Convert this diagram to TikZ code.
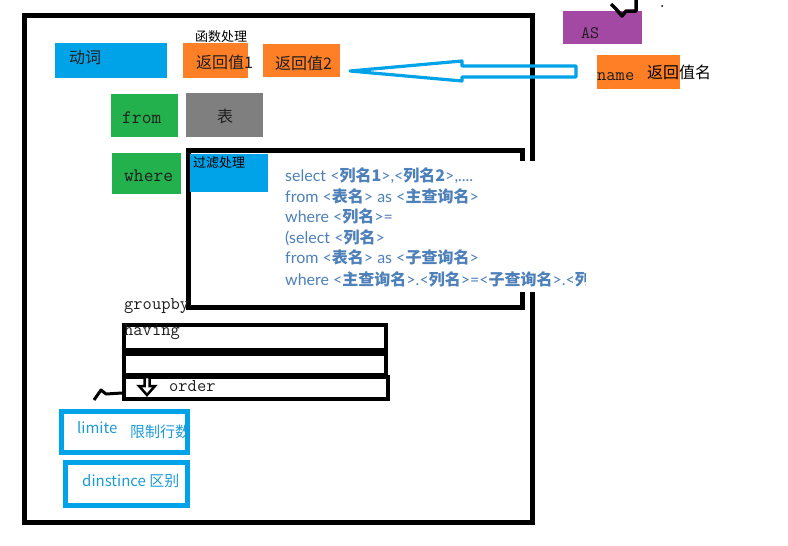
\documentclass[tikz,border=0pt]{standalone}
\usepackage{fontspec}
\setmainfont{Noto Sans CJK SC}
\newfontfamily\zhfont{Noto Sans CJK SC}
\newfontfamily\latofont{Lato}
\definecolor{pblue}{HTML}{00A2E8}
\definecolor{porange}{HTML}{FF7F27}
\definecolor{pgreen}{HTML}{22B14C}
\definecolor{pgray}{HTML}{7F7F7F}
\definecolor{ppurple}{HTML}{A349A4}
\definecolor{sqlblue}{HTML}{4E80BA}
\definecolor{tblue}{HTML}{1C9AD6}
\definecolor{ink}{HTML}{1E1E1E}
\newcommand{\zhb}[1]{{\zhfont\bfseries #1}}
\tikzset{
  fbox/.style={draw=none, inner sep=0pt, anchor=north west, fill=#1},
  zh/.style={inner sep=0pt, anchor=west, text=ink, font=\zhfont\fontsize{16}{18}\selectfont},
  zhs/.style={inner sep=0pt, anchor=west, text=black, font=\zhfont\fontsize{13}{15}\selectfont},
  mono/.style={inner sep=0pt, anchor=west, text=ink, font=\ttfamily\fontsize{18}{20}\selectfont},
  sql/.style={inner sep=0pt, anchor=base west, text=sqlblue, font=\latofont\fontsize{16}{18}\selectfont},
  bl/.style={inner sep=0pt, anchor=west, text=tblue, font=\zhfont\fontsize{15}{17}\selectfont},
}
\begin{document}
\begin{tikzpicture}[x=1pt,y=-1pt]
\useasboundingbox (0,0) rectangle (788,546);
% outer frame
\node[draw, line width=5pt, inner sep=0pt, anchor=north west, minimum width=508pt, minimum height=507pt] (frame) at (22,13) {};
% inner filter box
\node[draw, line width=5pt, inner sep=0pt, anchor=north west, minimum width=334pt, minimum height=157pt] (inner) at (186,148) {};
% white screenshot area
\fill[white] (276,161) rectangle (586,292);
% SQL text
\begin{scope}
\clip (276,150) rectangle (585,300);
\node[sql] (s1) at (285,181) {select <\zhb{列名1}>,<\zhb{列名2}>,....};
\node[sql] (s2) at (285,202) {from <\zhb{表名}> as <\zhb{主查询名}>};
\node[sql] (s3) at (285,222) {where <\zhb{列名}>=};
\node[sql] (s4) at (285,243) {(select <\zhb{列名}>};
\node[sql] (s5) at (285,263) {from <\zhb{表名}> as <\zhb{子查询名}>};
\node[sql] (s6) at (285,285) {where <\zhb{主查询名}>.<\zhb{列名}>=<\zhb{子查询名}>.<\zhb{列名}>};
\end{scope}
% filter label
\node[fbox=pblue, minimum width=78pt, minimum height=38pt] (guolv) at (190,154) {};
\node[zhs] (guolvt) at (193,163) {过滤处理};
% top row
\node[fbox=pblue, minimum width=112pt, minimum height=35pt] (dongci) at (55,43) {};
\node[zh] (dongcit) at (69,58) {动词};
\node[zhs] (hanshu) at (195,37) {函数处理};
\node[fbox=porange, minimum width=65pt, minimum height=35pt] (fan1) at (183,43) {};
\node[zh] (fan1t) at (196,62) {返回值1};
\node[fbox=porange, minimum width=77pt, minimum height=33pt] (fan2) at (263,44) {};
\node[zh] (fan2t) at (275,63) {返回值2};
% from / table
\node[fbox=pgreen, minimum width=67pt, minimum height=43pt] (from) at (111,94) {};
\node[mono, font=\ttfamily\fontsize{19}{21}\selectfont] (fromt) at (122,118) {from};
\node[fbox=pgray, minimum width=77pt, minimum height=44pt] (biao) at (186,93) {};
\node[zh, anchor=center] (biaot) at (225,116) {表};
% where
\node[fbox=pgreen, minimum width=69pt, minimum height=41pt] (where) at (112,153) {};
\node[mono, font=\ttfamily\fontsize{19}{21}\selectfont] (wheret) at (124,176) {where};
% AS / name
\node[fbox=ppurple, minimum width=79pt, minimum height=33pt] (as) at (563,11) {};
\node[mono, font=\ttfamily\fontsize{17.5}{19}\selectfont] (ast) at (581,33) {AS};
\node[fbox=porange, minimum width=83pt, minimum height=34pt] (name) at (597,55) {};
\node[mono] (namet) at (597,77) {name};
\node[zh, text=black] (namezh) at (647,72) {返回值名};
% hollow blue arrow
\draw[pblue, line width=3.2pt, line join=round] (350,71) -- (462,61) -- (462,66) -- (576,66) -- (576,77) -- (462,77) -- (462,81) -- cycle;
% black marks near AS
\draw[line width=3.5pt, line join=round] (611,4) -- (616,9) -- (622,16) -- (626,11) -- (636,11) -- (636,0);
\fill (662,6) circle (1pt);
% groupby / having / order
\node[mono] (groupby) at (124,306) {groupby};
\node[draw, line width=4pt, inner sep=0pt, anchor=north west, minimum width=262pt, minimum height=25pt] (having) at (122,323) {};
\node[mono] (havingt) at (124,332) {having};
\node[draw, line width=4pt, inner sep=0pt, anchor=north west, minimum width=262pt, minimum height=21pt] (mid) at (122,352) {};
\node[draw, line width=4pt, inner sep=0pt, anchor=north west, minimum width=264pt, minimum height=22pt] (order) at (122,375) {};
\node[mono] (ordert) at (169,386) {order};
\draw[line width=2.5pt, fill=white, line join=miter] (144.5,377) -- (149.5,377) -- (149.5,386) -- (155,386) -- (147,395) -- (139,386) -- (144.5,386) -- cycle;
\draw[line width=3pt, line join=round] (94,400) -- (101,390) -- (106,394) -- (122,393);
% limite / dinstince
\node[draw=pblue, line width=5pt, inner sep=0pt, anchor=north west, minimum width=126pt, minimum height=41pt] (limite) at (59,409) {};
\node[bl] (limitet) at (77,428) {limite};
\node[bl] (limitezh) at (130,432) {限制行数};
\node[draw=pblue, line width=5pt, inner sep=0pt, anchor=north west, minimum width=122pt, minimum height=43pt] (dist) at (63,460) {};
\node[bl] (distt) at (82,481) {dinstince 区别};
\end{tikzpicture}
\end{document}
